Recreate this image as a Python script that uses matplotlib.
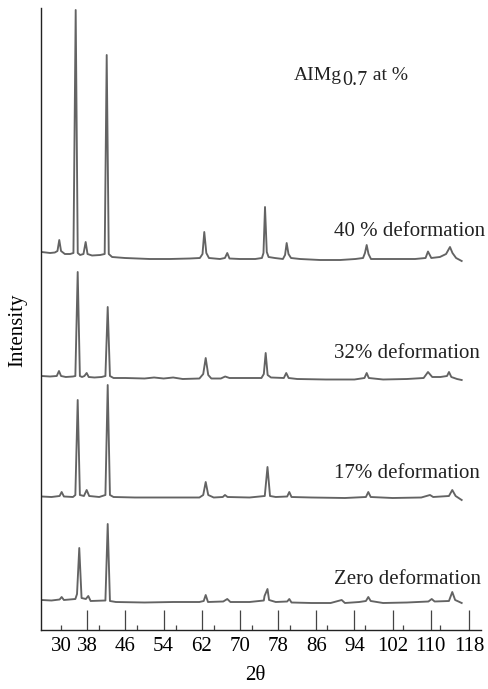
import matplotlib
matplotlib.use("Agg")
import matplotlib.pyplot as plt

plt.rcParams['font.family'] = ['Liberation Serif', 'DejaVu Serif']

# ---- data (2theta in degrees, intensity in arbitrary units above each trace's offset) ----
labels = ["40 % deformation", "32% deformation", "17% deformation", "Zero deformation"]
offsets = [368, 250, 130, 26]

tt_40 = [28.44, 30.2, 31.2, 31.75, 32.13, 32.5, 33.3, 34.4, 35.1, 35.57, 36.0, 36.5, 37.2, 37.66,
         38.05, 39.0, 40.7, 41.65, 42.07, 42.5, 43.2, 45.9, 51.1, 55.3, 59.5, 61.6, 62.15, 62.52,
         62.95, 63.5, 65.8, 66.85, 67.34, 67.8, 70.0, 73.2, 74.6, 74.93, 75.25, 75.62, 76.0, 77.3,
         79.0, 79.45, 79.79, 80.17, 80.7, 82.6, 86.8, 91.0, 94.2, 95.8, 96.2, 96.56, 96.94, 97.46,
         100.4, 103.5, 106.7, 108.9, 109.41, 110.1, 111.9, 113.2, 114.02, 114.54, 115.3, 116.47]
int_40 = [10, 9, 9.5, 11, 22, 11, 8, 8, 9, 252, 9, 7, 8, 20,
          8, 6.5, 7, 8, 207, 8, 5, 4, 3, 3, 3.5, 4, 8, 30,
          9, 4, 3, 4, 9, 3.5, 3, 3, 4, 9, 55, 10, 5, 4,
          3, 7, 19, 8, 4, 3, 2, 2, 3, 4, 9, 17, 8, 3,
          3, 3, 3, 4, 10.5, 4, 5, 8, 15, 9, 4, 1]

tt_32 = [28.44, 30.2, 31.6, 32.07, 32.5, 33.5, 35.0, 35.5, 35.99, 36.45, 36.9, 37.4, 37.87, 38.3,
         39.5, 41.0, 41.8, 42.28, 42.75, 43.5, 46.0, 50.0, 52.0, 54.0, 56.0, 58.0, 61.5, 62.3,
         62.82, 63.35, 64.0, 66.0, 66.9, 67.8, 70.0, 74.5, 75.0, 75.39, 75.8, 76.5, 79.2, 79.7,
         80.2, 82.0, 88.0, 94.0, 96.1, 96.56, 97.0, 100.0, 105.0, 108.5, 109.41, 110.3, 112.0,
         113.4, 113.81, 114.3, 115.5, 116.47]
int_32 = [4, 3.5, 4, 9, 4, 3, 3.5, 4, 108, 4, 3, 4, 7, 3,
          2.5, 3, 4, 73, 4, 2, 2, 1.5, 2.5, 1.5, 2.5, 1, 1.5, 6,
          22, 5, 1.5, 1.5, 3.5, 2, 2, 2, 6, 27, 5, 2.5, 2, 7,
          2, 1, 0.5, 0.5, 2, 7, 2, 0.5, 1, 2, 8, 3, 3,
          4, 8, 3, 1, 0]

tt_17 = [28.44, 30.5, 32.2, 32.63, 33.1, 35.0, 35.5, 35.99, 36.45, 37.3, 37.87, 38.4, 40.5, 41.8,
         42.28, 42.75, 43.5, 48.0, 55.0, 61.5, 62.3, 62.82, 63.35, 64.5, 66.4, 66.86, 67.4, 72.0,
         75.2, 75.77, 76.3, 77.5, 79.9, 80.34, 80.8, 85.0, 92.0, 96.4, 96.9, 97.4, 102.0, 108.0,
         109.83, 110.5, 113.8, 114.5, 115.2, 116.47]
int_17 = [3.5, 3, 4, 8, 3.5, 3, 5, 100, 5, 4, 10, 4, 3, 5,
          115, 5, 3, 2.5, 2.5, 2.5, 5, 18, 5, 2.5, 3, 5, 3, 2.5,
          4, 33, 4, 3, 3.5, 8, 3, 2.5, 2, 3, 8, 3, 2, 2.5,
          5, 3, 4, 10, 4, 0]

tt_0 = [28.44, 30.5, 32.2, 32.63, 33.1, 35.5, 35.85, 36.32, 36.8, 37.7, 38.21, 38.7, 41.8, 42.28,
        42.75, 44.0, 50.0, 56.0, 61.5, 62.4, 62.82, 63.3, 66.5, 67.34, 68.0, 72.0, 75.0, 75.15,
        75.77, 76.1, 77.5, 79.9, 80.34, 80.8, 85.0, 89.0, 91.32, 92.0, 95.0, 96.4, 96.9, 97.4,
        100.0, 105.0, 109.5, 110.19, 110.8, 113.8, 114.5, 115.1, 115.8, 116.47]
int_0 = [4, 3.5, 4.5, 7, 4, 5, 10, 56, 6, 5, 8, 3, 3.5, 80,
         3, 2, 1.5, 2, 2, 3, 9, 2, 2.5, 5, 2, 2, 3.5, 8,
         15, 4, 2, 2.5, 5, 1.5, 1, 1, 4, 1, 2, 3, 7, 3,
         1, 1.5, 2.5, 5, 2.5, 3, 12, 4, 2.5, 1]

major_ticks = [38, 46, 54, 62, 70, 78, 86, 94, 102, 110, 118]
major_labels = ["38", "46", "54", "62", "70", "78", "86", "94", "102", "110", "118"]
minor_ticks = [32.5, 40.4, 48.5, 56.6, 64.5, 72.5, 80.4, 88.3, 96.2, 104.1, 112.0]
minor_labels = ["30", "", "", "", "", "", "", "", "", "", ""]

traces = [(tt_40, int_40), (tt_32, int_32), (tt_17, int_17), (tt_0, int_0)]

# ---- figure ----
fig = plt.figure(figsize=(4.88, 6.89), dpi=100)
ax = fig.add_axes([41 / 488, 59 / 689, 440 / 488, 622 / 689])

for (tt, inten), off in zip(traces, offsets):
    ax.plot(tt, [v + off for v in inten], color='#636363', lw=1.35, solid_joinstyle='round')

ax.set_xlim(28.3, 120.52)
ax.set_ylim(0, 622)

for s in ['top', 'right']:
    ax.spines[s].set_visible(False)
for s in ['left', 'bottom']:
    ax.spines[s].set_linewidth(1.0)
    ax.spines[s].set_color('#222222')

ax.set_yticks([])
ax.set_xticks(major_ticks, labels=major_labels)
ax.set_xticks(minor_ticks, labels=minor_labels, minor=True)
ax.tick_params(axis='x', which='major', direction='in', length=14.5, width=0.9,
               color='#444444', labelsize=15, pad=5)
ax.tick_params(axis='x', which='minor', direction='in', length=3.8, width=0.9,
               color='#444444', labelsize=15, pad=5)

ax.set_xlabel('2θ', fontsize=15)
ax.xaxis.set_label_coords(0.486, -0.058)
ax.set_ylabel('Intensity', fontsize=15)
ax.yaxis.set_label_coords(-0.031, 0.482)

# trace labels
label_pos = [(1.009, 0.640), (0.998, 0.4453), (0.998, 0.2524), (1.0, 0.0804)]
for lab, (xa, ya) in zip(labels, label_pos):
    ax.text(xa, ya, lab, transform=ax.transAxes, ha='right', va='center', fontsize=15,
            color='#222222', clip_on=False)

# composition label
t1 = ax.text(0.575, 0.885, 'AIMg', transform=ax.transAxes, ha='left', va='baseline',
             fontsize=14, color='#222222')
t2 = ax.annotate('0.7', xy=(1, 0), xycoords=t1, xytext=(0.5, -5), textcoords='offset points',
                 ha='left', va='bottom', fontsize=14.5, color='#222222')
t3 = ax.annotate(' at %', xy=(1, 0), xycoords=t2, xytext=(0, 5), textcoords='offset points',
                 ha='left', va='bottom', fontsize=14, color='#222222')

fig.savefig('out.png', dpi=100)
